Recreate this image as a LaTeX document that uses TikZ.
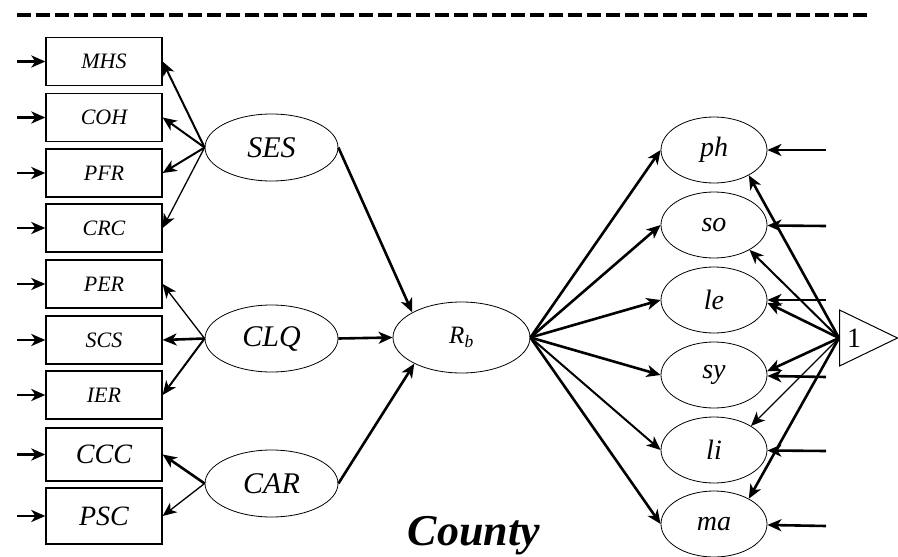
\documentclass[tikz,border=0pt]{standalone}
\usepackage{fontspec}
\setmainfont{Liberation Serif}
\usetikzlibrary{arrows.meta,shapes.geometric}

\begin{document}
\begin{tikzpicture}[x=1pt,y=-1pt,
  obs/.style={draw,line width=1.3pt,minimum width=116pt,minimum height=48pt,inner sep=0pt,
    font=\fontsize{22}{22}\selectfont\itshape},
  obsbig/.style={obs,font=\fontsize{28}{28}\selectfont\itshape},
  lat/.style={draw,ellipse,line width=0.8pt,minimum width=133pt,minimum height=67pt,inner sep=0pt,
    font=\fontsize{30}{30}\selectfont\itshape},
  dom/.style={draw,ellipse,line width=0.8pt,minimum width=106pt,minimum height=66pt,inner sep=0pt,
    font=\fontsize{28}{28}\selectfont\itshape},
  tip/.style={-{Stealth[length=14pt,width=12pt,inset=4pt]}},
  thk/.style={tip,line width=2.6pt},
  med/.style={tip,line width=2pt},
  thn/.style={tip,line width=1.3pt},
]
\useasboundingbox (0,0) rectangle (898,557);

% top rule
\coordinate (ruleL) at (17,15);
\coordinate (ruleR) at (870,15);
\draw[line width=4pt,dash pattern=on 14pt off 5pt] (ruleL) -- (ruleR);

% observed indicators
\node[obs] (MHS) at (104,61.5) {MHS};
\node[obs] (COH) at (104,117.5) {COH};
\node[obs] (PFR) at (104,173) {PFR};
\node[obs] (CRC) at (104,228) {CRC};
\node[obs] (PER) at (104,284) {PER};
\node[obs] (SCS) at (104,340) {SCS};
\node[obs] (IER) at (104,395) {IER};
\node[obsbig,minimum height=53pt] (CCC) at (104,454.5) {CCC};
\node[obsbig,minimum height=56pt] (PSC) at (104,516) {PSC};

% error inputs on the indicators
\foreach \n/\y in {MHS/61.5,COH/117.5,PFR/173,CRC/228,PER/284,SCS/340,IER/395,CCC/454.5,PSC/516}{
  \coordinate (e\n) at (17,\y);
  \draw[thk] (e\n) -- (\n);
}

% latent factors
\node[lat] (SES) at (271.5,147.5) {SES};
\node[lat] (CLQ) at (271.5,338.5) {CLQ};
\node[lat] (CAR) at (271.5,483.5) {CAR};
\node[lat,minimum width=137pt,minimum height=71pt,font=\fontsize{25}{25}\selectfont] (Rb) at (461.5,337.5)
  {\textit{R}\textsubscript{\textit{b}}};

% loadings
\draw[med] (SES.west) -- (MHS.east);
\draw[med] (SES.west) -- (COH.east);
\draw[med] (SES.west) -- (PFR.east);
\draw[thn] (SES.west) -- (CRC.east);
\draw[thn] (CLQ.west) -- (PER.east);
\draw[thk] (CLQ.west) -- (SCS.east);
\draw[med] (CLQ.west) -- (IER.east);
\draw[thk] (CAR.west) -- (CCC.east);
\draw[thn] (CAR.west) -- (PSC.east);

% structural paths
\draw[thk] (SES.east) -- (Rb.153);
\draw[thk] (CLQ.east) -- (Rb.west);
\draw[thk] (CAR.east) -- (Rb.209);

% outcome domains
\node[dom] (ph) at (714,150) {ph};
\node[dom] (so) at (714,225) {so};
\node[dom] (le) at (714,300) {le};
\node[dom] (sy) at (714,375) {sy};
\node[dom] (li) at (714,450) {li};
\node[dom] (ma) at (714,524) {ma};

\draw[thk] (Rb.east) -- (ph.west);
\draw[thk] (Rb.east) -- (so.west);
\draw[thk] (Rb.east) -- (le.west);
\draw[thk] (Rb.east) -- (sy.west);
\draw[med] (Rb.east) -- (li.west);
\draw[thk] (Rb.east) -- (ma.west);

% residuals on the domains
\foreach \n/\y in {ph/150,so/226,le/300,sy/377,li/451,ma/526}{
  \coordinate (r\n) at (826,\y);
  \draw[thk] (r\n) -- (\n);
}

% mean structure constant
\node[draw,isosceles triangle,isosceles triangle stretches,line width=1pt,
  minimum width=56pt,minimum height=58pt,inner sep=0pt,anchor=lower side,
  font=\fontsize{28}{28}\selectfont] (one) at (839,338) {1};

\draw[thk] (one.lower side) -- (ph.-36);
\draw[med] (one.lower side) -- (so.-35);
\draw[thk] (one.lower side) -- (le.-3);
\draw[thk] (one.lower side) -- (sy.4);
\draw[thn] (one.lower side) -- (li.33);
\draw[thk] (one.lower side) -- (ma.36);

% group label
\node[anchor=base,inner sep=0pt,font=\fontsize{44}{44}\selectfont\bfseries\itshape] (county) at (474,545) {County};
\end{tikzpicture}
\end{document}
